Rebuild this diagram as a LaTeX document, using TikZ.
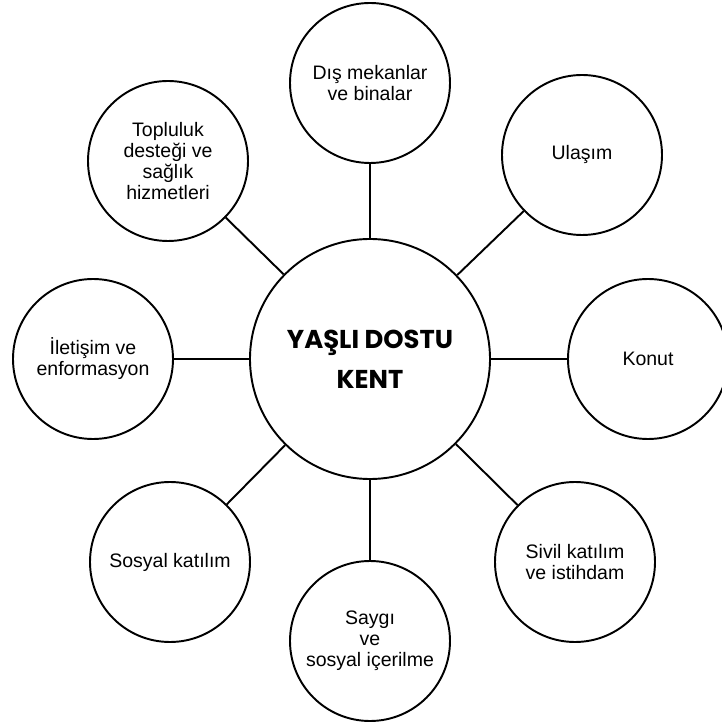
\documentclass[tikz,border=0pt]{standalone}
\usepackage{fontspec}
\setmainfont{Liberation Sans}
\newfontfamily\kentfont{Poppins}
\begin{document}
\begin{tikzpicture}[
        hub/.style={circle, draw=black, line width=1.1pt, minimum size=4.8cm, inner sep=0pt, align=center, font=\kentfont\bfseries\fontsize{14.7}{22.8}\selectfont},
        topic/.style={circle, draw=black, line width=1.1pt, minimum size=3.2cm, inner sep=0pt, align=center, font=\fontsize{11.1}{11.9}\selectfont},
        link/.style={black, line width=1.1pt}
    ]
    \useasboundingbox (-7.4,-7.26) rectangle (7.02,7.18);
    % Nodes
    \node[hub] (K) at (0,0) {YAŞLI DOSTU\\KENT};
    \node[topic] (D) at (0,5.52) {Dış mekanlar\\ve binalar};
    \node[topic] (U) at (4.24,4.08) {Ulaşım};
    \node[topic] (C) at (5.56,0) {Konut};
    \node[topic] (S) at (4.1,-4.06) {Sivil katılım\\ve istihdam};
    \node[topic] (G) at (0,-5.64) {Saygı\\ve\\sosyal içerilme};
    \node[topic] (P) at (-4.0,-4.06) {Sosyal katılım};
    \node[topic] (I) at (-5.54,0) {İletişim ve\\enformasyon};
    \node[topic] (T) at (-4.04,3.96) {Topluluk\\desteği ve\\sağlık\\hizmetleri};
    % Edges
    \draw[link] (K) -- (D);
    \draw[link] (K) -- (U);
    \draw[link] (K) -- (C);
    \draw[link] (K) -- (S);
    \draw[link] (K) -- (G);
    \draw[link] (K) -- (P);
    \draw[link] (K) -- (I);
    \draw[link] (K) -- (T);
\end{tikzpicture}
\end{document}
